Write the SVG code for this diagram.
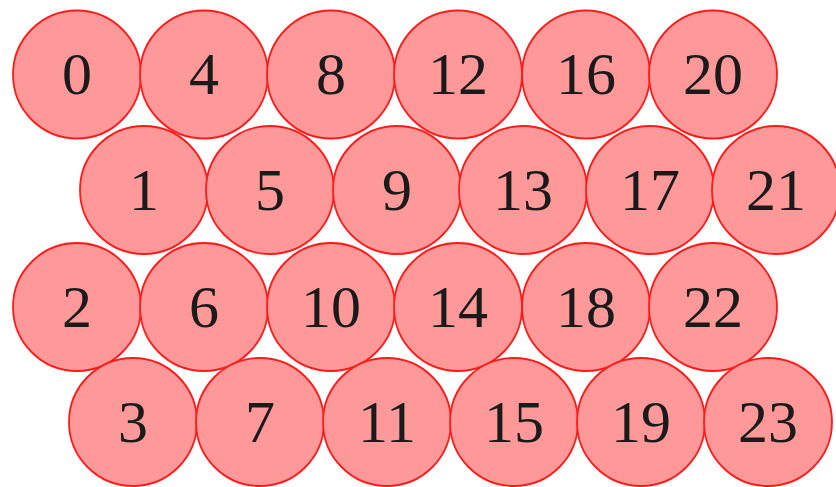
<svg xmlns="http://www.w3.org/2000/svg" width="836" height="487" viewBox="0 0 836 487">
<style>
.n circle{fill:#ff9999;stroke:#ff1a1a;stroke-width:1.8}
.n text{font-family:"Liberation Serif","DejaVu Serif",serif;font-size:60px;fill:#1a1a1a;text-anchor:middle}
</style>
<rect width="836" height="487" fill="#ffffff"/>
<g id="connectors"></g>
<g id="n0" class="n"><circle cx="77" cy="74.5" r="64"/><text x="77" y="94">0</text></g>
<g id="n4" class="n"><circle cx="204" cy="74.5" r="64"/><text x="204" y="94">4</text></g>
<g id="n8" class="n"><circle cx="331" cy="74.5" r="64"/><text x="331" y="94">8</text></g>
<g id="n12" class="n"><circle cx="458" cy="74.5" r="64"/><text x="458" y="94">12</text></g>
<g id="n16" class="n"><circle cx="586" cy="74.5" r="64"/><text x="586" y="94">16</text></g>
<g id="n20" class="n"><circle cx="713" cy="74.5" r="64"/><text x="713" y="94">20</text></g>
<g id="n1" class="n"><circle cx="144" cy="190" r="64"/><text x="144" y="210">1</text></g>
<g id="n5" class="n"><circle cx="270" cy="190" r="64"/><text x="270" y="210">5</text></g>
<g id="n9" class="n"><circle cx="397" cy="190" r="64"/><text x="397" y="210">9</text></g>
<g id="n13" class="n"><circle cx="523" cy="190" r="64"/><text x="523" y="210">13</text></g>
<g id="n17" class="n"><circle cx="650" cy="190" r="64"/><text x="650" y="210">17</text></g>
<g id="n21" class="n"><circle cx="776" cy="190" r="64"/><text x="776" y="210">21</text></g>
<g id="n2" class="n"><circle cx="77" cy="307" r="64"/><text x="77" y="327">2</text></g>
<g id="n6" class="n"><circle cx="204" cy="307" r="64"/><text x="204" y="327">6</text></g>
<g id="n10" class="n"><circle cx="331" cy="307" r="64"/><text x="331" y="327">10</text></g>
<g id="n14" class="n"><circle cx="458" cy="307" r="64"/><text x="458" y="327">14</text></g>
<g id="n18" class="n"><circle cx="586" cy="307" r="64"/><text x="586" y="327">18</text></g>
<g id="n22" class="n"><circle cx="713" cy="307" r="64"/><text x="713" y="327">22</text></g>
<g id="n3" class="n"><circle cx="133" cy="422" r="64"/><text x="133" y="442">3</text></g>
<g id="n7" class="n"><circle cx="260" cy="422" r="64"/><text x="260" y="442">7</text></g>
<g id="n11" class="n"><circle cx="387" cy="422" r="64"/><text x="387" y="442">11</text></g>
<g id="n15" class="n"><circle cx="514" cy="422" r="64"/><text x="514" y="442">15</text></g>
<g id="n19" class="n"><circle cx="641" cy="422" r="64"/><text x="641" y="442">19</text></g>
<g id="n23" class="n"><circle cx="768" cy="422" r="64"/><text x="768" y="442">23</text></g>
</svg>
